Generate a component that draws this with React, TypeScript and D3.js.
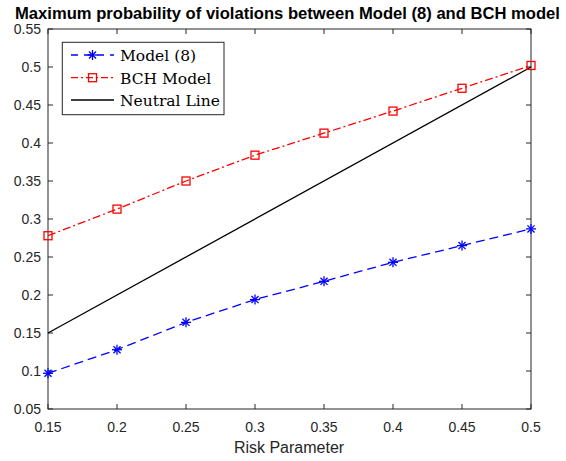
import React from "react";
import * as d3 from "d3";

// risk parameter values on the x axis
const RISK = [0.15, 0.2, 0.25, 0.3, 0.35, 0.4, 0.45, 0.5];
// series
const MODEL8 = [0.097, 0.128, 0.164, 0.194, 0.218, 0.243, 0.265, 0.287];
const BCH = [0.278, 0.313, 0.350, 0.384, 0.413, 0.442, 0.472, 0.502];
const NEUTRAL = [0.15, 0.5];
const NEUTRAL_X = [0.15, 0.5];

const X_TICKS = [0.15, 0.2, 0.25, 0.3, 0.35, 0.4, 0.45, 0.5];
const Y_TICKS = [0.05, 0.1, 0.15, 0.2, 0.25, 0.3, 0.35, 0.4, 0.45, 0.5, 0.55];

const LEGEND = ["Model (8)", "BCH Model", "Neutral Line"];

const W = 566;
const H = 461;
const left = 48, right = 531, top = 29, bottom = 409;
const AX = "#262626";
const SANS = "'Liberation Sans', Arial, Helvetica, sans-serif";
const SERIF = "'DejaVu Serif', serif";

const x = d3.scaleLinear().domain([0.15, 0.5]).range([left, right]);
const y = d3.scaleLinear().domain([0.05, 0.55]).range([bottom, top]);

function Star({ cx, cy, r = 5 }: { cx: number; cy: number; r?: number }) {
  const d = r * Math.SQRT1_2;
  return (
    <g stroke="#0000ff" strokeWidth={1.3}>
      <line x1={cx - r} y1={cy} x2={cx + r} y2={cy} />
      <line x1={cx} y1={cy - r} x2={cx} y2={cy + r} />
      <line x1={cx - d} y1={cy - d} x2={cx + d} y2={cy + d} />
      <line x1={cx - d} y1={cy + d} x2={cx + d} y2={cy - d} />
    </g>
  );
}

function Square({ cx, cy, s = 8 }: { cx: number; cy: number; s?: number }) {
  return (
    <rect x={cx - s / 2} y={cy - s / 2} width={s} height={s}
      fill="none" stroke="#ff0000" strokeWidth={1.3} />
  );
}

export default function App() {
  const line = d3.line<[number, number]>().x((d) => x(d[0])).y((d) => y(d[1]));
  const modelPath = line(RISK.map((r, i) => [r, MODEL8[i]]));
  const bchPath = line(RISK.map((r, i) => [r, BCH[i]]));
  const neutralPath = line(NEUTRAL_X.map((r, i) => [r, NEUTRAL[i]]));

  const lx0 = 71, lx1 = 114, lmid = 92.5;
  const rows = [55, 77.7, 100];

  return (
    <svg width={W} height={H} style={{ position: "absolute", left: 0, top: 0, background: "#fff" }}>
      <rect x={0} y={0} width={W} height={H} fill="#fff" />

      {/* title */}
      <text x={287.5} y={18.5} textAnchor="middle" fontFamily={SANS}
        fontWeight="bold" fontSize={16.6} fill="#000">
        Maximum probability of violations between Model (8) and BCH model
      </text>

      {/* axes box */}
      <rect x={left} y={top} width={right - left} height={bottom - top} fill="none" stroke={AX} strokeWidth={1} />

      {/* x ticks */}
      {X_TICKS.map((t) => (
        <g key={"x" + t}>
          <line x1={x(t)} x2={x(t)} y1={bottom} y2={bottom - 5} stroke={AX} />
          <line x1={x(t)} x2={x(t)} y1={top} y2={top + 5} stroke={AX} />
          <text x={x(t)} y={431.5} textAnchor="middle" fontFamily={SANS} fontSize={14} fill={AX}>
            {String(t)}
          </text>
        </g>
      ))}

      {/* y ticks */}
      {Y_TICKS.map((t) => (
        <g key={"y" + t}>
          <line x1={left} x2={left + 5} y1={y(t)} y2={y(t)} stroke={AX} />
          <line x1={right} x2={right - 5} y1={y(t)} y2={y(t)} stroke={AX} />
          <text x={41} y={y(t) + 5} textAnchor="end" fontFamily={SANS} fontSize={14} fill={AX}>
            {String(Math.round(t * 100) / 100)}
          </text>
        </g>
      ))}

      <text x={289} y={453} textAnchor="middle" fontFamily={SANS} fontSize={16} fill={AX}>
        Risk Parameter
      </text>

      {/* series */}
      <path d={neutralPath ?? ""} fill="none" stroke="#000" strokeWidth={1.3} />
      <path d={bchPath ?? ""} fill="none" stroke="#ff0000" strokeWidth={1.3} strokeDasharray="8 3 2 3" />
      <path d={modelPath ?? ""} fill="none" stroke="#0000ff" strokeWidth={1.3} strokeDasharray="9 5" />
      {RISK.map((r, i) => <Square key={"s" + i} cx={x(r)} cy={y(BCH[i])} />)}
      {RISK.map((r, i) => <Star key={"a" + i} cx={x(r)} cy={y(MODEL8[i])} />)}

      {/* legend */}
      <rect x={62.3} y={42.3} width={161.7} height={72.4} fill="#fff" stroke={AX} strokeWidth={1} />
      <line x1={lx0} x2={lx1} y1={rows[0]} y2={rows[0]} stroke="#0000ff" strokeWidth={1.3} strokeDasharray="7 6" />
      <Star cx={lmid} cy={rows[0]} />
      <line x1={lx0} x2={lx1} y1={rows[1]} y2={rows[1]} stroke="#ff0000" strokeWidth={1.3} strokeDasharray="7 3 2 3" />
      <Square cx={lmid} cy={rows[1]} />
      <line x1={lx0} x2={lx1} y1={rows[2]} y2={rows[2]} stroke="#000" strokeWidth={1.3} />
      {LEGEND.map((s, i) => (
        <text key={s} x={120} y={rows[i] + 6} fontFamily={SERIF} fontSize={15.5} fill="#000">{s}</text>
      ))}
    </svg>
  );
}
